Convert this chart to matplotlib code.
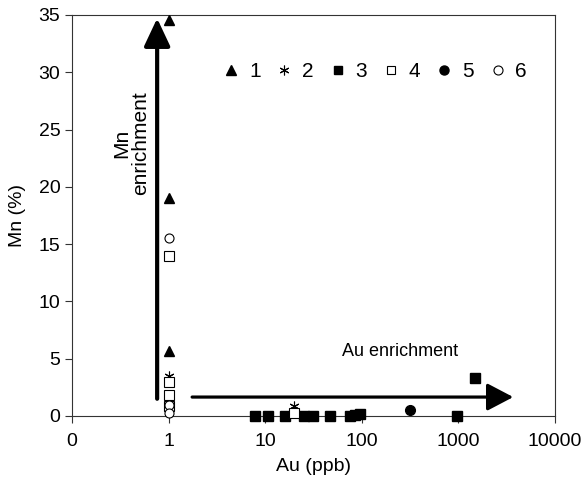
import matplotlib
matplotlib.use('Agg')
import matplotlib.pyplot as plt
from matplotlib.ticker import FixedLocator, FixedFormatter, NullLocator
from matplotlib.lines import Line2D

plt.rcParams['font.family'] = ['Liberation Sans', 'DejaVu Sans']

# series (Au in ppb, Mn in %)
x1 = [1, 1, 1]
y1 = [34.6, 19.0, 5.7]

x2 = [1, 20]
y2 = [3.5, 0.9]

x3 = [7.8, 10.7, 16, 25, 31, 47, 75, 85, 96, 970, 1500]
y3 = [0, 0, 0, 0, 0, 0, 0, 0.1, 0.2, 0, 3.3]

x4 = [1, 1, 1, 1, 20]
y4 = [14.0, 3.0, 1.8, 0.9, 0.3]

x5 = [315]
y5 = [0.5]

x6 = [1, 1, 1]
y6 = [15.5, 1.0, 0.3]

xtick_vals = [0.1, 1, 10, 100, 1000, 10000]
xtick_labels = ['0', '1', '10', '100', '1000', '10000']
ytick_vals = [0, 5, 10, 15, 20, 25, 30, 35]

fig = plt.figure(figsize=(5.86, 4.82), dpi=100)
ax = fig.add_axes([0.123, 0.137, 0.824, 0.832])

asterisk = (6, 2, 0)
common = dict(linestyle='none', clip_on=False, zorder=3)
ax.plot(x1, y1, marker='^', ms=7.5, color='black', mec='black', **common)
ax.plot(x2, y2, marker=asterisk, ms=7, color='black', mew=0.8, **common)
ax.plot(x3, y3, marker='s', ms=6.5, color='black', mec='black', **common)
ax.plot(x4, y4, marker='s', ms=6.5, mfc='white', mec='black', mew=0.8, **common)
ax.plot(x5, y5, marker='o', ms=7, color='black', **common)
ax.plot(x6, y6, marker='o', ms=6.5, mfc='white', mec='black', mew=0.8, **common)

# enrichment arrows
ax.annotate('', xy=(0.76, 34.7), xytext=(0.76, 1.5),
            arrowprops=dict(arrowstyle='-|>,head_length=0.85,head_width=0.4',
                            mutation_scale=20, lw=3, color='black',
                            shrinkA=0, shrinkB=0))
ax.annotate('', xy=(3700, 1.65), xytext=(1.75, 1.65),
            arrowprops=dict(arrowstyle='-|>,head_length=0.8,head_width=0.42',
                            mutation_scale=20, lw=2.3, color='black',
                            shrinkA=0, shrinkB=0))

ax.text(0.41, 23.8, 'Mn\nenrichment', rotation=90, ha='center', va='center',
        fontsize=15, linespacing=1.0)
ax.text(250, 5.6, 'Au enrichment', ha='center', va='center', fontsize=13)

ax.set_xscale('log')
ax.set_xlim(0.1, 10000)
ax.set_ylim(0, 35)
ax.xaxis.set_major_locator(FixedLocator(xtick_vals))
ax.xaxis.set_major_formatter(FixedFormatter(xtick_labels))
ax.xaxis.set_minor_locator(NullLocator())
ax.set_yticks(ytick_vals)
ax.tick_params(labelsize=14, direction='out', length=5, width=0.8, color='#333333')
ax.tick_params(axis='x', pad=7)
for s in ax.spines.values():
    s.set_linewidth(0.8)
    s.set_color('#333333')

ax.set_xlabel('Au (ppb)', fontsize=14, labelpad=6)
ax.set_ylabel('Mn (%)', fontsize=14, labelpad=9)

handles = [
    Line2D([], [], linestyle='none', marker='^', ms=7, color='black'),
    Line2D([], [], linestyle='none', marker=asterisk, ms=7, color='black', mew=0.8),
    Line2D([], [], linestyle='none', marker='s', ms=6, color='black'),
    Line2D([], [], linestyle='none', marker='s', ms=6, mfc='white', mec='black', mew=0.8),
    Line2D([], [], linestyle='none', marker='o', ms=6.5, color='black'),
    Line2D([], [], linestyle='none', marker='o', ms=6.5, mfc='white', mec='black', mew=0.8),
]
ax.legend(handles, ['1', '2', '3', '4', '5', '6'], ncol=6, frameon=False,
          loc='center', bbox_to_anchor=(0.627, 0.858), fontsize=15,
          handlelength=0.8, handletextpad=0.45, columnspacing=0.75,
          borderaxespad=0)

fig.savefig('out.png', dpi=100)
